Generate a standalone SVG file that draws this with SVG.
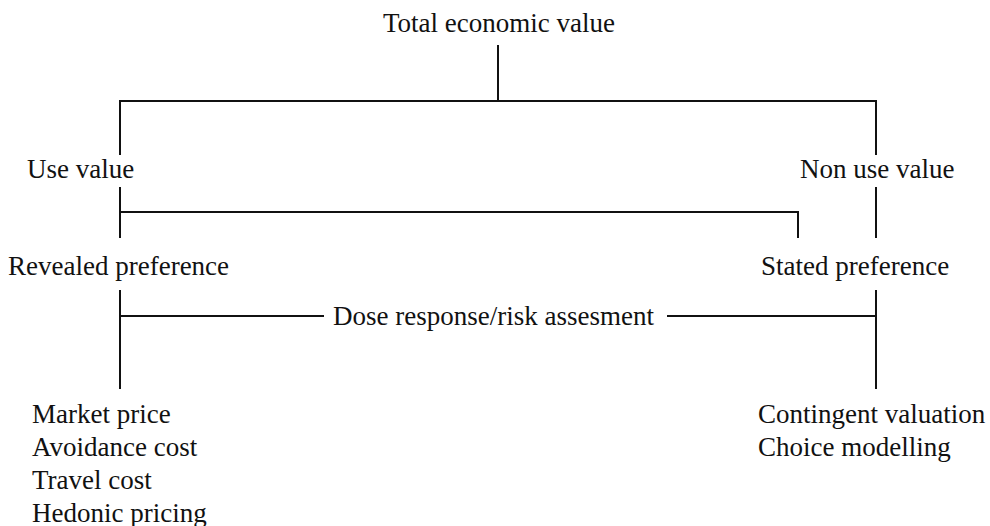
<svg xmlns="http://www.w3.org/2000/svg" width="990" height="526" viewBox="0 0 990 526">
  <style>
    .lbl { font-family: "Liberation Serif", "Times New Roman", serif; font-size: 27px; fill: #111; }
    .ln { stroke: #111; stroke-width: 2; fill: none; }
  </style>
  <rect width="990" height="526" fill="#fff"/>
  <g id="connectors" class="ln">
    <path d="M498 45 V101 M120 155 V101 H876 V155"/>
    <path d="M120 187 V238 M120 212 H798 V238 M876 187 V238"/>
    <path d="M120 290 V389 M120 316 H324 M667 316 H876 M876 290 V389"/>
  </g>
  <g id="total"><text class="lbl" x="383" y="32">Total economic value</text></g>
  <g id="use"><text class="lbl" x="27" y="178">Use value</text></g>
  <g id="nonuse"><text class="lbl" x="800" y="178">Non use value</text></g>
  <g id="revealed"><text class="lbl" x="8" y="275">Revealed preference</text></g>
  <g id="stated"><text class="lbl" x="761" y="275">Stated preference</text></g>
  <g id="dose"><text class="lbl" x="333" y="325">Dose response/risk assesment</text></g>
  <g id="revealed-methods">
    <text class="lbl" x="32" y="423">Market price</text>
    <text class="lbl" x="32" y="456">Avoidance cost</text>
    <text class="lbl" x="32" y="489">Travel cost</text>
    <text class="lbl" x="32" y="522">Hedonic pricing</text>
  </g>
  <g id="stated-methods">
    <text class="lbl" x="758" y="423">Contingent valuation</text>
    <text class="lbl" x="758" y="456">Choice modelling</text>
  </g>
</svg>
